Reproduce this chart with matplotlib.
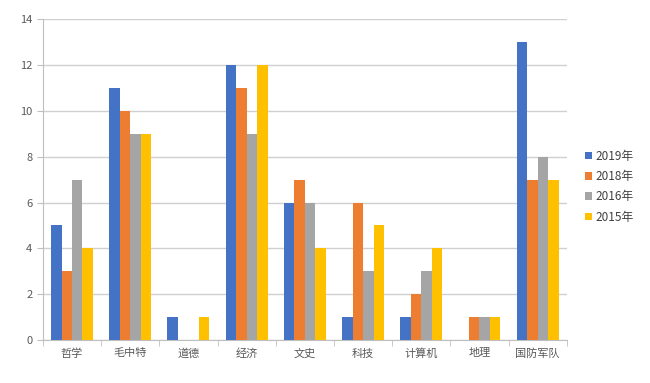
import numpy as np
import matplotlib
matplotlib.use('Agg')
import matplotlib.pyplot as plt

plt.rcParams['font.family'] = ['Noto Sans CJK SC', 'DejaVu Sans']

categories = ['哲学', '毛中特', '道德', '经济', '文史', '科技', '计算机', '地理', '国防军队']
series_names = ['2019年', '2018年', '2016年', '2015年']
v2019 = [5, 11, 1, 12, 6, 1, 1, 0, 13]
v2018 = [3, 10, 0, 11, 7, 6, 2, 1, 7]
v2016 = [7, 9, 0, 9, 6, 3, 3, 1, 8]
v2015 = [4, 9, 1, 12, 4, 5, 4, 1, 7]
colors = ['#4472C4', '#ED7D31', '#A5A5A5', '#FFC000']

fig = plt.figure(figsize=(6.5, 3.83), dpi=100)
ax = fig.add_axes([0.066, 0.112, 0.806, 0.838])

x = np.arange(len(categories))
w = 0.18
for i, (vals, name) in enumerate(zip([v2019, v2018, v2016, v2015], series_names)):
    ax.bar(x + (i - 1.5) * w, vals, width=w, color=colors[i], label=name, zorder=3)

ax.set_xlim(-0.5, len(categories) - 0.5)
ax.set_ylim(0, 14)
ax.set_yticks(range(0, 15, 2))
ax.yaxis.grid(True, color='#D0D0D0', linewidth=1, zorder=0)

ax.set_xticks(x)
ax.set_xticklabels(categories)
ax.set_xticks(np.arange(-0.5, len(categories), 1), minor=True)
ax.tick_params(axis='x', which='major', length=0, pad=6, labelsize=8, labelcolor='#595959')
ax.tick_params(axis='x', which='minor', length=4, color='#BFBFBF')
ax.tick_params(axis='y', length=4, color='#BFBFBF', labelsize=8, labelcolor='#595959')

for s in ['top', 'right']:
    ax.spines[s].set_visible(False)
ax.spines['left'].set_color('#BFBFBF')
ax.spines['bottom'].set_color('#BFBFBF')

ax.legend(loc='center left', bbox_to_anchor=(1.015, 0.478), frameon=False,
          fontsize=8.5, handlelength=0.6, handleheight=0.6, handletextpad=0.3,
          labelspacing=0.62, labelcolor='#404040')

fig.savefig('out.png', dpi=100)
